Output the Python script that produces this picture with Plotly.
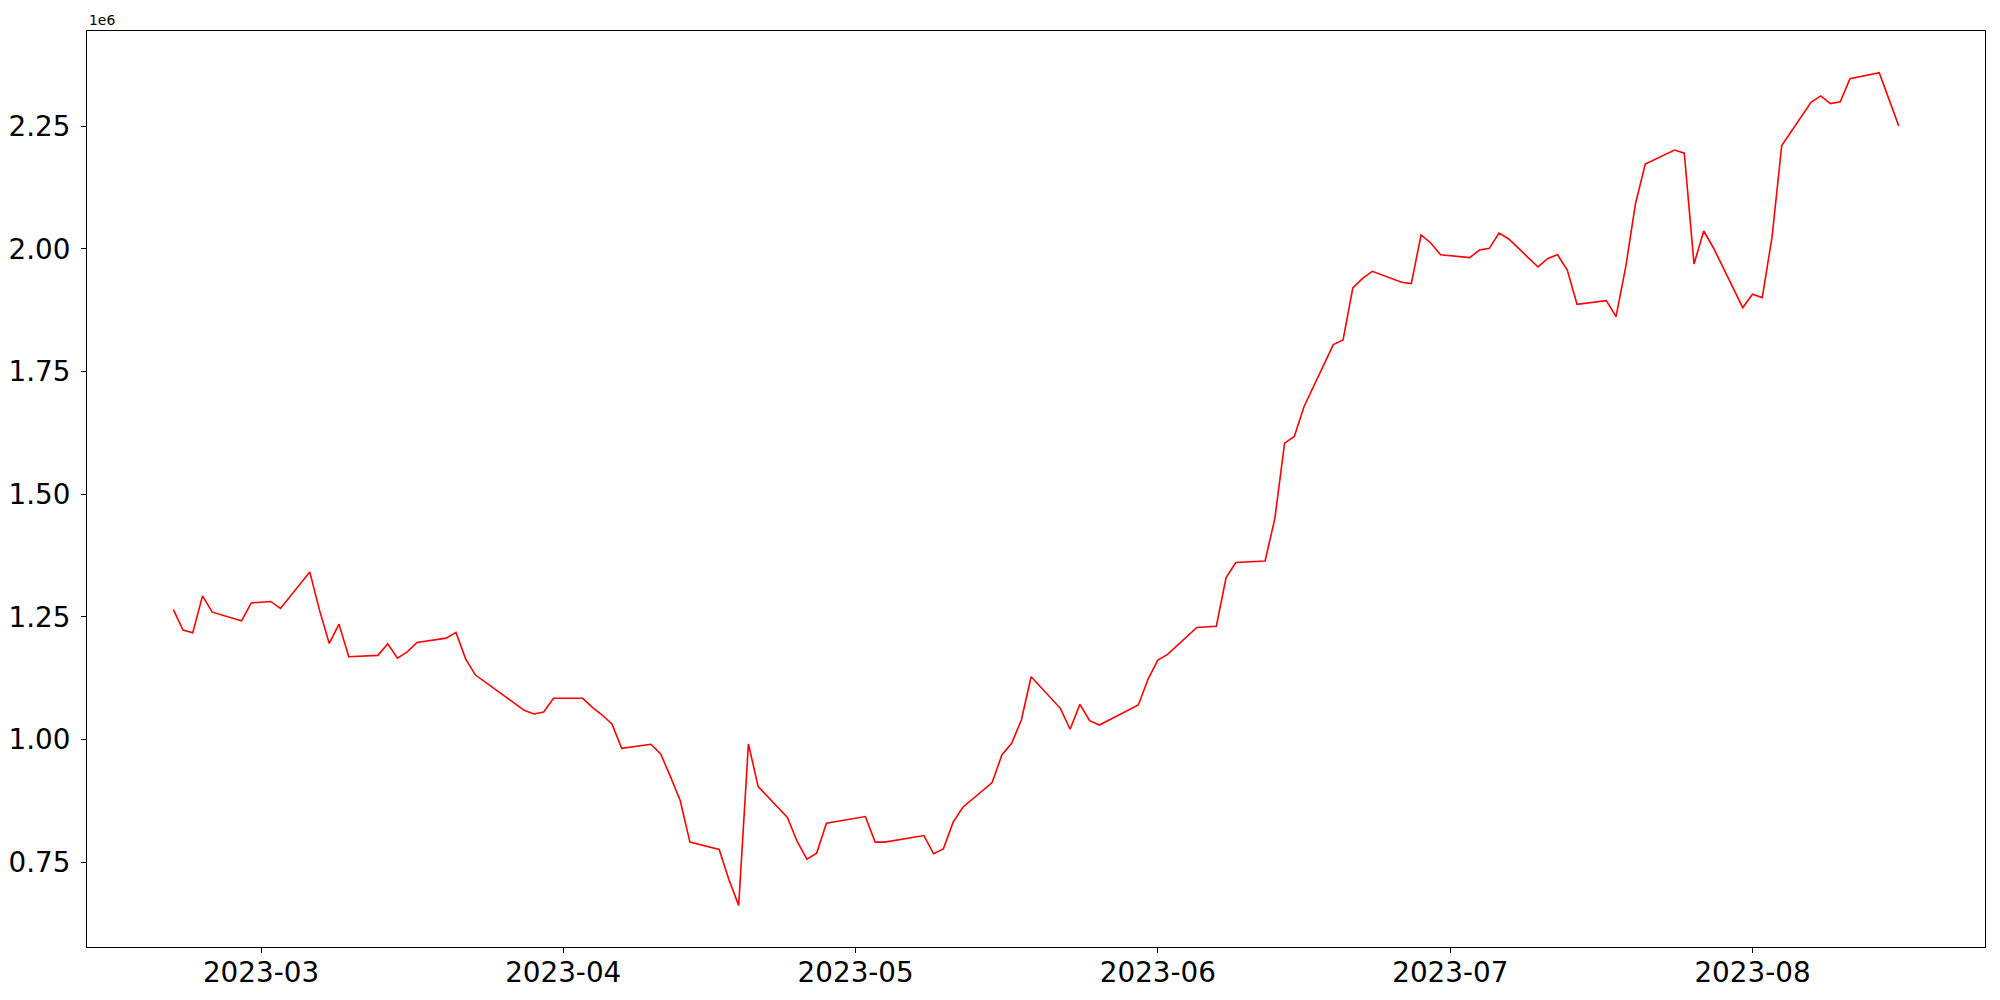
import plotly.graph_objects as go
import pandas as pd

dates = [
    "2023-02-20", "2023-02-21", "2023-02-22", "2023-02-23", "2023-02-24",
    "2023-02-27", "2023-02-28", "2023-03-02", "2023-03-03", "2023-03-06",
    "2023-03-07", "2023-03-08", "2023-03-09", "2023-03-10", "2023-03-13",
    "2023-03-14", "2023-03-15", "2023-03-16", "2023-03-17", "2023-03-20",
    "2023-03-21", "2023-03-22", "2023-03-23", "2023-03-28", "2023-03-29",
    "2023-03-30", "2023-03-31", "2023-04-03", "2023-04-04", "2023-04-05",
    "2023-04-06", "2023-04-07", "2023-04-10", "2023-04-11", "2023-04-12",
    "2023-04-13", "2023-04-14", "2023-04-17", "2023-04-18", "2023-04-19",
    "2023-04-20", "2023-04-21", "2023-04-24", "2023-04-25", "2023-04-26",
    "2023-04-27", "2023-04-28", "2023-05-02", "2023-05-03", "2023-05-04",
    "2023-05-08", "2023-05-09", "2023-05-10", "2023-05-11", "2023-05-12",
    "2023-05-15", "2023-05-16", "2023-05-17", "2023-05-18", "2023-05-19",
    "2023-05-22", "2023-05-23", "2023-05-24", "2023-05-25", "2023-05-26",
    "2023-05-30", "2023-05-31", "2023-06-01", "2023-06-02", "2023-06-05",
    "2023-06-07", "2023-06-08", "2023-06-09", "2023-06-12", "2023-06-13",
    "2023-06-14", "2023-06-15", "2023-06-16", "2023-06-19", "2023-06-20",
    "2023-06-21", "2023-06-22", "2023-06-23", "2023-06-26", "2023-06-27",
    "2023-06-28", "2023-06-29", "2023-06-30", "2023-07-03", "2023-07-04",
    "2023-07-05", "2023-07-06", "2023-07-07", "2023-07-10", "2023-07-11",
    "2023-07-12", "2023-07-13", "2023-07-14", "2023-07-17", "2023-07-18",
    "2023-07-19", "2023-07-20", "2023-07-21", "2023-07-24", "2023-07-25",
    "2023-07-26", "2023-07-27", "2023-07-28", "2023-07-31", "2023-08-01",
    "2023-08-02", "2023-08-03", "2023-08-04", "2023-08-07", "2023-08-08",
    "2023-08-09", "2023-08-10", "2023-08-11", "2023-08-14", "2023-08-16",
]

values = [
    1265000, 1222800, 1217300, 1292600, 1259400,
    1241700, 1278300, 1281200, 1267000, 1341500,
    1263500, 1195700, 1235000, 1168500, 1171300,
    1194900, 1165800, 1178600, 1197800, 1206500,
    1218100, 1163800, 1131200, 1059300, 1051800,
    1055900, 1083800, 1083800, 1065400, 1049800,
    1031500, 982000, 990200, 970400, 924200,
    875400, 790700, 775600, 714000, 661800,
    990800, 903900, 840800, 792000, 756100,
    768300, 829400, 842800, 790700, 790700,
    804100, 766900, 777000, 831400, 861900,
    912000, 968400, 992200, 1039600, 1127700,
    1063400, 1020700, 1071500, 1038200, 1029400,
    1070100, 1123000, 1161700, 1173300, 1228300,
    1230800, 1330000, 1360600, 1363800, 1450100,
    1604000, 1617600, 1678700, 1804900, 1814400,
    1920300, 1939800, 1954100, 1931700, 1929000,
    2028200, 2011900, 1988000, 1982000, 1997600,
    2001000, 2032200, 2020000, 1963000, 1980500,
    1988000, 1956900, 1886900, 1894400, 1861900,
    1963600, 2092500, 2172700, 2201200, 2195000,
    1969100, 2036300, 2001700, 1880200, 1907300,
    1900500, 2023300, 2210500, 2298800, 2311700,
    2296000, 2299500, 2346900, 2359100, 2250600,
]

y_tick_vals = [750000, 1000000, 1250000, 1500000, 1750000, 2000000, 2250000]
y_tick_text = ["0.75", "1.00", "1.25", "1.50", "1.75", "2.00", "2.25"]
offset_label = "1e6"

x = pd.to_datetime(dates)
x_span = x.max() - x.min()
x_range = [x.min() - 0.05 * x_span, x.max() + 0.05 * x_span]
y_span = max(values) - min(values)
y_range = [min(values) - 0.05 * y_span, max(values) + 0.05 * y_span]

FONT = "DejaVu Sans"

fig = go.Figure(
    go.Scatter(
        x=x, y=values, mode="lines",
        line=dict(color="#ff0000", width=1.6),
        showlegend=False,
    )
)

axis_common = dict(
    showgrid=False, zeroline=False, automargin=False,
    showline=True, linecolor="black", linewidth=1.1, mirror=True,
    ticks="outside", ticklen=5, tickwidth=1.1, tickcolor="black",
    tickfont=dict(family=FONT, size=27.8, color="black"),
)

fig.update_xaxes(
    type="date", range=x_range,
    tick0="2023-03-01", dtick="M1", tickformat="%Y-%m",
    ticklabelstandoff=-4,
    **axis_common,
)
fig.update_yaxes(
    range=y_range, tickmode="array",
    tickvals=y_tick_vals, ticktext=y_tick_text,
    ticklabelstandoff=5,
    **axis_common,
)

fig.add_annotation(
    text=offset_label, xref="paper", yref="paper", x=0, y=1,
    xanchor="left", yanchor="bottom", yshift=1, showarrow=False,
    font=dict(family=FONT, size=13.9, color="black"),
)

fig.update_layout(
    width=2000, height=1000,
    margin=dict(l=87, r=15, t=31, b=53, autoexpand=False),
    paper_bgcolor="white", plot_bgcolor="white",
    font=dict(family=FONT, color="black"),
)

fig.write_html(
    "out.html",
    config={"displayModeBar": False},
    post_script="document.body.style.margin='0';document.body.style.overflow='hidden';",
)
